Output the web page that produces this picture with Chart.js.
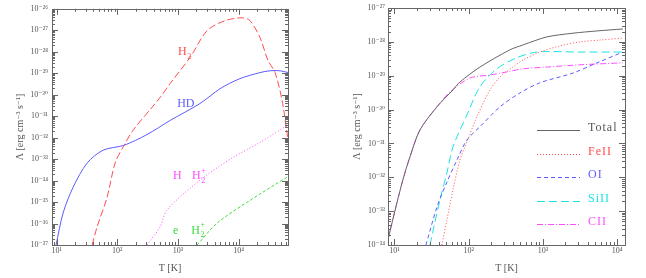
<!DOCTYPE html>
<html>
<head>
<meta charset="utf-8">
<script src="https://cdn.jsdelivr.net/npm/chart.js@4.4.0/dist/chart.umd.min.js"></script>
<style>
  body { margin: 0; background: #fff; }
  canvas { position: absolute; top: 0; }
</style>
</head>
<body>
<canvas id="left" width="323" height="278" style="left:0"></canvas>
<canvas id="right" width="323" height="278" style="left:323px"></canvas>
<script>
// --- left panel: molecular cooling rates ---
var h2T = [38.5, 46.4, 68, 92, 129, 182, 374, 507, 741, 1580, 3010, 5970, 11400, 15400, 22500, 30500, 39800, 51900, 62800, 65000];
var h2L = [1e-37, 6.9e-37, 1.7e-35, 6.5e-34, 4.4e-33, 2.2e-32, 2.6e-31, 7.4e-31, 3.3e-30, 5.4e-29, 9.5e-28, 2.8e-27, 3.8e-27, 2.8e-27, 4.5e-28, 3.9e-29, 1.07e-29, 5.4e-31, 1.6e-32, 7.4e-33];

var hdT = [9.8, 12.8, 18.7, 31.8, 58.3, 129, 310, 741, 2310, 4940, 10500, 22500, 32900, 48100, 65200];
var hdL = [1e-37, 3.1e-36, 4.9e-35, 6.5e-34, 2.6e-33, 4.4e-33, 1.4e-32, 6.3e-32, 3.9e-31, 1.9e-30, 5.6e-30, 1.07e-29, 1.3e-29, 1.3e-29, 1.07e-29];

var hh2pT = [310, 507, 661, 2310, 8090, 22500, 62800];
var hh2pL = [1e-37, 6.9e-37, 4.3e-36, 1.05e-34, 1.2e-33, 6.0e-33, 3.7e-32];

var eh2pT = [2070, 4420, 15400, 62800];
var eh2pL = [1e-37, 1.05e-36, 1.2e-35, 1.45e-34];

var leftXTicks = [1e1, 1e2, 1e3, 1e4];
var leftYTicks = [1e-26, 1e-27, 1e-28, 1e-29, 1e-30, 1e-31, 1e-32, 1e-33, 1e-34, 1e-35, 1e-36, 1e-37];

// --- right panel: metal line cooling ---
var totalT = [8.17, 10.8, 13.0, 16.2, 22.1, 37.4, 61.4, 76.3, 142, 360, 540, 1135, 2540, 5350, 12000];
var totalL = [1.4e-34, 1.74e-33, 8.3e-33, 4.0e-32, 2.5e-31, 1.2e-30, 3.8e-30, 6.5e-30, 1.8e-29, 5.8e-29, 8.1e-29, 1.4e-28, 1.8e-28, 2.1e-28, 2.4e-28];

var feT = [43.6, 51.0, 61.4, 76.3, 89.1, 129, 194, 264, 395, 540, 916, 1700, 3170, 5890, 12000];
var feL = [1e-34, 5.5e-34, 4.2e-33, 3.2e-32, 7.8e-32, 6.0e-31, 3.8e-30, 9.1e-30, 1.8e-29, 2.9e-29, 5.0e-29, 7.6e-29, 1.0e-28, 1.13e-28, 1.3e-28];

var oiT = [26.6, 37.4, 51.0, 69.5, 94.8, 142, 264, 492, 916, 2550, 5370, 12000];
var oiL = [1e-34, 1.3e-33, 7.2e-33, 3.2e-32, 1.26e-31, 3.1e-31, 1.2e-30, 3.1e-30, 6.2e-30, 1.2e-29, 2.4e-29, 5.0e-29];

var siT = [30.1, 41.0, 51.0, 61.4, 94.8, 142, 240, 447, 832, 3150, 12000];
var siL = [1e-34, 2.1e-33, 1.35e-32, 7.8e-32, 6.9e-31, 4.7e-30, 1.6e-29, 3.4e-29, 5.0e-29, 5.0e-29, 5.0e-29];

var ciiT = [8.17, 10.8, 13.0, 16.2, 22.1, 37.4, 56.0, 104, 194, 328, 540, 1135, 3170, 12000];
var ciiL = [1.4e-34, 1.74e-33, 8.3e-33, 4.0e-32, 2.5e-31, 1.2e-30, 3.3e-30, 8.5e-30, 1.05e-29, 1.3e-29, 1.6e-29, 1.8e-29, 2.1e-29, 2.4e-29];

var rightXTicks = [1e1, 1e2, 1e3, 1e4];
var rightYTicks = [1e-27, 1e-28, 1e-29, 1e-30, 1e-31, 1e-32, 1e-33, 1e-34];

var RED = '#ff4d4d', BLUE = '#5c5cff', MAG = '#ff4dff', GREEN = '#3ddc3d', CYAN = '#19e3e3', GRAY = '#666';
var SERIF = "'Liberation Serif', 'DejaVu Serif', serif";

// 10^n as text with unicode superscripts
var sups = {'-': '⁻', '0': '⁰', '1': '¹', '2': '²', '3': '³', '4': '⁴', '5': '⁵', '6': '⁶', '7': '⁷', '8': '⁸', '9': '⁹'};
function powLabel(v) {
  var e = String(Math.round(Math.log10(v)));
  return '10' + e.split('').map(function(c) { return sups[c]; }).join('');
}

function pts(xs, ys) {
  return xs.map(function(x, i) { return {x: x, y: ys[i]}; });
}

function line(label, xs, ys, color, dash) {
  return {
    label: label, data: pts(xs, ys),
    borderColor: color, borderWidth: 1, borderDash: dash || [],
    pointRadius: 0, fill: false, tension: 0.3
  };
}

function axis(o) {
  return {
    type: 'logarithmic',
    min: o.min, max: o.max,
    grid: { display: false, drawTicks: false },
    border: { display: false },
    ticks: {
      autoSkip: false, maxRotation: 0, minRotation: 0, padding: o.pad,
      color: '#555', font: { family: SERIF, size: 8 }, callback: powLabel
    },
    title: {
      display: true, text: o.title, color: '#555',
      font: { family: SERIF, size: 10 }, padding: o.titlePad
    },
    afterBuildTicks: function(s) {
      s.ticks = o.ticks.map(function(v) { return {value: v}; });
    },
    afterFit: function(s) {
      if (o.width) s.width = o.width;
      if (o.height) s.height = o.height;
    }
  };
}

// frame box with inward ticks on all four sides
var frameTicks = {
  id: 'frameTicks',
  afterDatasetsDraw: function(chart) {
    var ctx = chart.ctx, a = chart.chartArea;
    ctx.save();
    ctx.strokeStyle = '#666';
    ctx.lineWidth = 1;
    ctx.strokeRect(Math.round(a.left) + 0.5, Math.round(a.top) + 0.5, Math.round(a.right - a.left), Math.round(a.bottom - a.top));
    ['x', 'y'].forEach(function(id) {
      var s = chart.scales[id];
      var lo = Math.floor(Math.log10(s.min)), hi = Math.ceil(Math.log10(s.max));
      for (var d = lo; d <= hi; d++) {
        for (var m = 1; m < 10; m++) {
          var v = m * Math.pow(10, d);
          if (v < s.min * 0.999 || v > s.max * 1.001) continue;
          var p = Math.round(s.getPixelForValue(v)) + 0.5;
          var len = m === 1 ? 6 : 3;
          ctx.beginPath();
          if (id === 'x') {
            ctx.moveTo(p, a.bottom); ctx.lineTo(p, a.bottom - len);
            ctx.moveTo(p, a.top); ctx.lineTo(p, a.top + len);
          } else {
            ctx.moveTo(a.left, p); ctx.lineTo(a.left + len, p);
            ctx.moveTo(a.right, p); ctx.lineTo(a.right - len, p);
          }
          ctx.stroke();
        }
      }
    });
    ctx.restore();
  }
};

// curve names on the left panel, placed in data coordinates
var leftNotes = {
  id: 'leftNotes',
  afterDatasetsDraw: function(chart) {
    var ctx = chart.ctx, sx = chart.scales.x, sy = chart.scales.y;
    var notes = [
      {text: 'H', sub: '2', T: 1000, L: 1e-28, color: RED},
      {text: 'HD', T: 970, L: 3.9e-31, color: BLUE},
      {text: 'H', T: 830, L: 1.6e-34, color: MAG},
      {text: 'H', sub: '2', sup: '+', T: 1710, L: 1.6e-34, color: MAG},
      {text: 'e', T: 830, L: 4.8e-37, color: GREEN},
      {text: 'H', sub: '2', sup: '+', T: 1660, L: 4.8e-37, color: GREEN}
    ];
    ctx.save();
    ctx.textBaseline = 'middle';
    notes.forEach(function(n) {
      var x = sx.getPixelForValue(n.T), y = sy.getPixelForValue(n.L);
      ctx.fillStyle = n.color;
      ctx.font = '12px ' + SERIF;
      ctx.fillText(n.text, x, y);
      var w = ctx.measureText(n.text).width + 0.5;
      ctx.font = '8px ' + SERIF;
      if (n.sub) ctx.fillText(n.sub, x + w, y + 5);
      if (n.sup) ctx.fillText(n.sup, x + w, y - 5);
    });
    ctx.restore();
  }
};

// legend inside the right panel
var rightLegend = {
  id: 'rightLegend',
  afterDatasetsDraw: function(chart) {
    var ctx = chart.ctx, a = chart.chartArea;
    var textColors = ['#555', RED, BLUE, CYAN, MAG];
    ctx.save();
    chart.data.datasets.forEach(function(ds, i) {
      var y = Math.round(a.top + 122 + i * 23.5) + 0.5;
      ctx.strokeStyle = ds.borderColor;
      ctx.lineWidth = 1;
      ctx.setLineDash(ds.borderDash);
      ctx.beginPath();
      ctx.moveTo(a.left + 149, y);
      ctx.lineTo(a.left + 192, y);
      ctx.stroke();
      ctx.setLineDash([]);
      ctx.fillStyle = textColors[i];
      ctx.font = '12px ' + SERIF;
      ctx.letterSpacing = '1px';
      ctx.textBaseline = 'alphabetic';
      ctx.fillText(ds.label, a.left + 200, y);
    });
    ctx.restore();
  }
};

new Chart(document.getElementById('left'), {
  type: 'line',
  data: {
    datasets: [
      line('H2', h2T, h2L, RED, [7, 3]),
      line('HD', hdT, hdL, BLUE),
      line('H-H2+', hh2pT, hh2pL, MAG, [1, 2]),
      line('e-H2+', eh2pT, eh2pL, GREEN, [3, 2])
    ]
  },
  options: {
    responsive: false,
    animation: false,
    layout: { padding: { top: 8, right: 35, left: 0, bottom: 0 } },
    plugins: { legend: { display: false }, tooltip: { enabled: false } },
    scales: {
      x: axis({min: 8.4, max: 65000, ticks: leftXTicks, pad: 1, height: 33, title: 'T [K]', titlePad: {top: 0, bottom: 4}}),
      y: axis({min: 1e-37, max: 1e-26, ticks: leftYTicks, pad: 4, width: 52, title: 'Λ [erg cm⁻³ s⁻¹]', titlePad: {top: 14, bottom: 0}})
    }
  },
  plugins: [frameTicks, leftNotes]
});

new Chart(document.getElementById('right'), {
  type: 'line',
  data: {
    datasets: [
      line('Total', totalT, totalL, GRAY),
      line('FeII', feT, feL, RED, [1, 2]),
      line('OI', oiT, oiL, BLUE, [4, 3]),
      line('SiII', siT, siL, CYAN, [8, 4]),
      line('CII', ciiT, ciiL, MAG, [6, 2, 1, 2])
    ]
  },
  options: {
    responsive: false,
    animation: false,
    layout: { padding: { top: 8, right: 21, left: 0, bottom: 0 } },
    plugins: { legend: { display: false }, tooltip: { enabled: false } },
    scales: {
      x: axis({min: 8.2, max: 12800, ticks: rightXTicks, pad: 1, height: 33, title: 'T [K]', titlePad: {top: 0, bottom: 4}}),
      y: axis({min: 1e-34, max: 1e-27, ticks: rightYTicks, pad: 3, width: 65, title: 'Λ [erg cm⁻³ s⁻¹]', titlePad: {top: 28, bottom: 0}})
    }
  },
  plugins: [frameTicks, rightLegend]
});
</script>
</body>
</html>
